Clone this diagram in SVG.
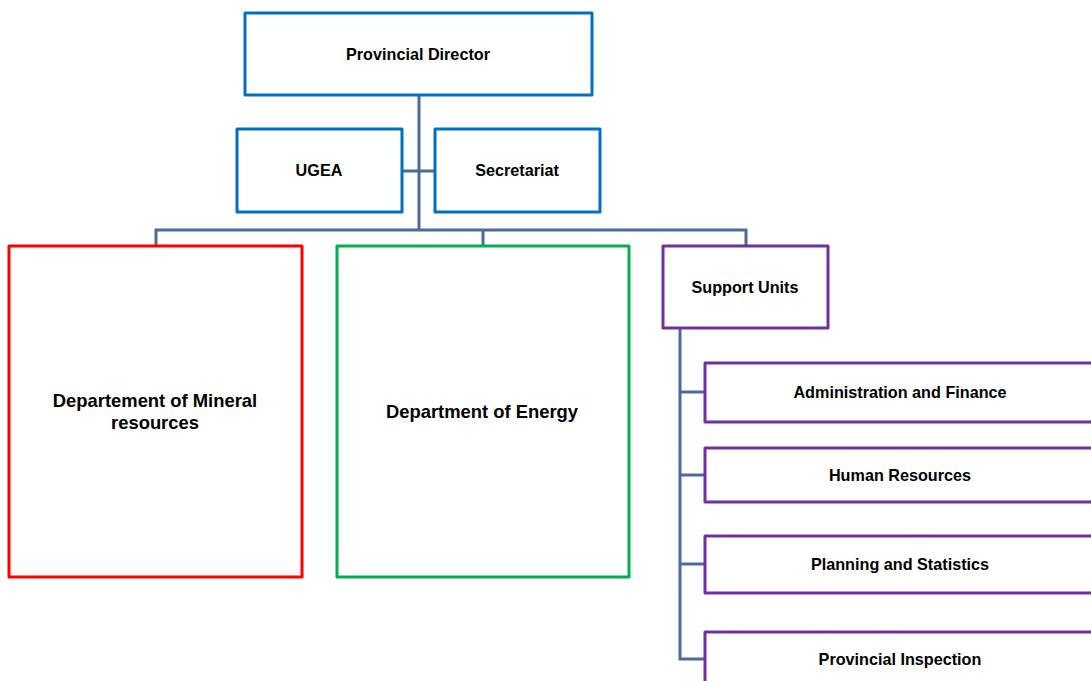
<svg xmlns="http://www.w3.org/2000/svg" width="1091" height="681" viewBox="0 0 1091 681">
  <style>
    .box { fill: #ffffff; stroke-width: 3; stroke-linejoin: round; }
    .blue { stroke: #0070C0; }
    .red { stroke: #FF0000; }
    .green { stroke: #00B050; }
    .purple { stroke: #7030A0; }
    .link { fill: none; stroke: #4A6B9C; stroke-width: 3; }
    text { font-family: "Liberation Sans", Arial, sans-serif; font-weight: bold; fill: #000000; text-anchor: middle; dominant-baseline: central; }
    .s { font-size: 16.2px; }
    .l { font-size: 18.4px; }
  </style>
  <rect width="1091" height="681" fill="#ffffff"/>

  <g id="connectors">
    <path class="link" d="M419 95 V230"/>
    <path class="link" d="M402 171 H435"/>
    <path class="link" d="M156 246 V230 H746 V246"/>
    <path class="link" d="M483 230 V246"/>
    <path class="link" d="M680 328 V659 H705"/>
    <path class="link" d="M680 392 H705"/>
    <path class="link" d="M680 475 H705"/>
    <path class="link" d="M680 564 H705"/>
  </g>

  <g id="provincial-director">
    <rect class="box blue" x="245" y="13" width="347" height="82"/>
    <text class="s" x="418" y="54">Provincial Director</text>
  </g>
  <g id="ugea">
    <rect class="box blue" x="237" y="129" width="165" height="83"/>
    <text class="s" x="319" y="170">UGEA</text>
  </g>
  <g id="secretariat">
    <rect class="box blue" x="435" y="129" width="165" height="83"/>
    <text class="s" x="517" y="170">Secretariat</text>
  </g>
  <g id="mineral-resources">
    <rect class="box red" x="9" y="246" width="293" height="331"/>
    <text class="l" x="155" y="400">Departement of Mineral</text>
    <text class="l" x="155" y="422">resources</text>
  </g>
  <g id="energy">
    <rect class="box green" x="337" y="246" width="292" height="331"/>
    <text class="l" x="482" y="411">Department of Energy</text>
  </g>
  <g id="support-units">
    <rect class="box purple" x="663" y="246" width="165" height="82"/>
    <text class="s" x="745" y="287">Support Units</text>
  </g>
  <g id="administration-finance">
    <rect class="box purple" x="705" y="363" width="400" height="59"/>
    <text class="s" x="900" y="392">Administration and Finance</text>
  </g>
  <g id="human-resources">
    <rect class="box purple" x="705" y="448" width="400" height="54"/>
    <text class="s" x="900" y="475">Human Resources</text>
  </g>
  <g id="planning-statistics">
    <rect class="box purple" x="705" y="536" width="400" height="57"/>
    <text class="s" x="900" y="564">Planning and Statistics</text>
  </g>
  <g id="provincial-inspection">
    <rect class="box purple" x="705" y="632" width="400" height="80"/>
    <text class="s" x="900" y="659">Provincial Inspection</text>
  </g>
</svg>
